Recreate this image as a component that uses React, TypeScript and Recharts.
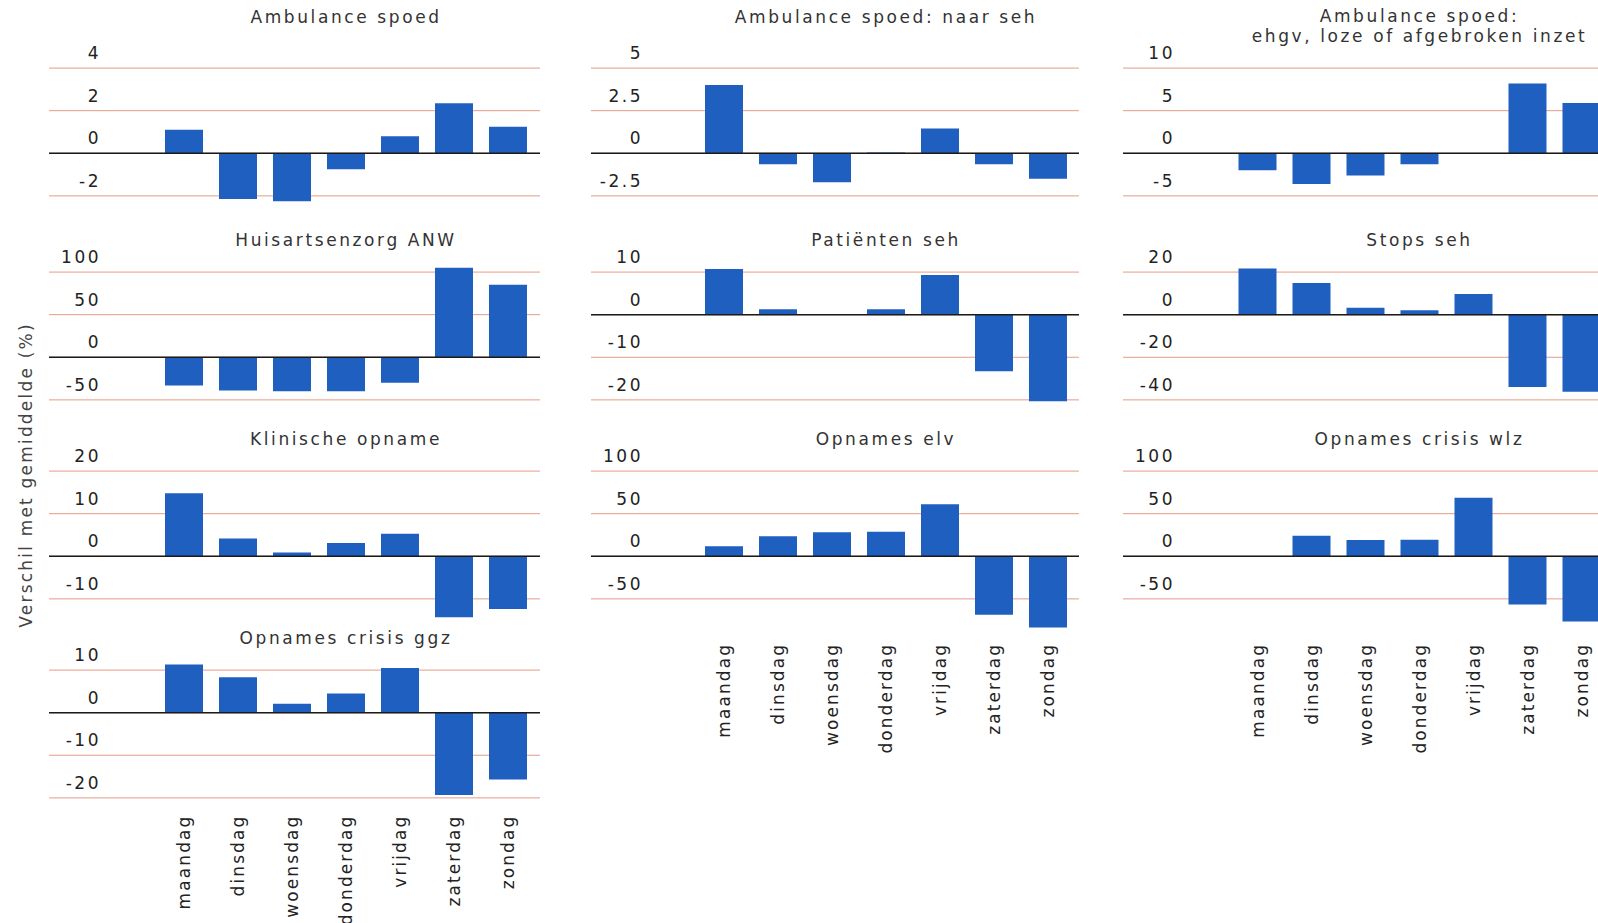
import { Bar, BarChart, CartesianGrid, ReferenceLine, XAxis, YAxis } from "recharts";

const days = ["maandag", "dinsdag", "woensdag", "donderdag", "vrijdag", "zaterdag", "zondag"];

const ambulanceSpoed = [1.1, -2.15, -2.25, -0.75, 0.8, 2.35, 1.25];
const ambulanceNaarSeh = [4.0, -0.65, -1.7, 0.05, 1.45, -0.65, -1.5];
const ambulanceEhgv = [-2.0, -3.6, -2.6, -1.3, 0, 8.2, 5.9];
const huisartsenzorgAnw = [-33, -39, -40, -40, -30, 105, 85];
const patientenSeh = [10.7, 1.3, 0, 1.3, 9.3, -13.3, -20.3];
const stopsSeh = [21.7, 14.9, 3.2, 2.1, 9.7, -34, -36.2];
const klinischeOpname = [14.8, 4.2, 0.9, 3.1, 5.3, -14.3, -12.4];
const opnamesElv = [11.8, 23.6, 28.3, 28.7, 61, -68.5, -83.5];
const opnamesCrisisWlz = [0, 24, 19, 19.4, 68.7, -56.7, -76.6];
const opnamesCrisisGgz = [11.3, 8.3, 2.1, 4.5, 10.5, -19.3, -15.7];

const ticksSpoed = [-2, 0, 2, 4];
const ticksNaarSeh = [-2.5, 0, 2.5, 5];
const ticksEhgv = [-5, 0, 5, 10];
const ticksAnw = [-50, 0, 50, 100];
const ticksPatienten = [-20, -10, 0, 10];
const ticksStops = [-40, -20, 0, 20];
const ticksKlinisch = [-10, 0, 10, 20];
const ticksElv = [-50, 0, 50, 100];
const ticksWlz = [-50, 0, 50, 100];
const ticksGgz = [-20, -10, 0, 10];

const yLabel = "Verschil met gemiddelde (%)";

const panels = [
  { title: ["Ambulance spoed"], values: ambulanceSpoed, ticks: ticksSpoed },
  { title: ["Ambulance spoed: naar seh"], values: ambulanceNaarSeh, ticks: ticksNaarSeh },
  { title: ["Ambulance spoed:", "ehgv, loze of afgebroken inzet"], values: ambulanceEhgv, ticks: ticksEhgv },
  { title: ["Huisartsenzorg ANW"], values: huisartsenzorgAnw, ticks: ticksAnw },
  { title: ["Patiënten seh"], values: patientenSeh, ticks: ticksPatienten },
  { title: ["Stops seh"], values: stopsSeh, ticks: ticksStops },
  { title: ["Klinische opname"], values: klinischeOpname, ticks: ticksKlinisch },
  { title: ["Opnames elv"], values: opnamesElv, ticks: ticksElv },
  { title: ["Opnames crisis wlz"], values: opnamesCrisisWlz, ticks: ticksWlz },
  { title: ["Opnames crisis ggz"], values: opnamesCrisisGgz, ticks: ticksGgz },
];

// layout (pixels)
const COL_LEFT = [49, 591, 1123];
const COL_WIDTH = [491, 488, 491];
const COL_PAD = [108, 106, 107.5];
const ROW_TOP = [68.3, 272.5, 471, 670.5];
const STEP_PX = 42.6;
const BAND = 54;
const AXIS_W = 1;
const FONT = "'DejaVu Sans', Verdana, sans-serif";
const BLUE = "#1f5fbf";
const GRID = "#e59a85";

// [col, row, gap below bottom gridline for day labels (0 = no labels)]
const layout = [
  [0, 0, 0], [1, 0, 0], [2, 0, 0],
  [0, 1, 0], [1, 1, 0], [2, 1, 0],
  [0, 2, 0], [1, 2, 44], [2, 2, 44],
  [0, 3, 16.7],
];

function ValueTick({ x, y, payload }: any) {
  return (
    <text x={x + 52} y={y - 9} textAnchor="end" fontSize={17} letterSpacing={2.5} fill="#222" fontFamily={FONT}>
      {payload.value}
    </text>
  );
}

function DayTick({ x, y, payload }: any) {
  return (
    <text
      x={x}
      y={y}
      transform={`rotate(-90, ${x}, ${y})`}
      textAnchor="end"
      dy="0.36em"
      fontSize={17}
      letterSpacing={2.1}
      fill="#222"
      fontFamily={FONT}
    >
      {payload.value}
    </text>
  );
}

function Panel({ index }: { index: number }) {
  const p = panels[index];
  const [col, row, gap] = layout[index];
  const step = p.ticks[1] - p.ticks[0];
  const hi = p.ticks[3] + 0.8 * step;
  const lo = gap ? p.ticks[0] - (gap / STEP_PX) * step : p.ticks[0] - 0.8 * step;
  const plotTop = ROW_TOP[row] - 0.8 * STEP_PX;
  const plotH = ((hi - lo) / step) * STEP_PX;
  const axisH = gap ? 130 : 0;
  const width = COL_WIDTH[col];
  const padL = COL_PAD[col];
  const padR = width - padL - BAND * days.length;
  const data = days.map((day, i) => ({ day, value: p.values[i] }));
  const titleTop = row === 0 ? ROW_TOP[row] - 61 : ROW_TOP[row] - 42.5;

  return (
    <>
      <div
        style={{
          position: "absolute",
          left: COL_LEFT[col] + padL - 20,
          width: BAND * days.length + 40,
          top: p.title.length > 1 ? 6 : titleTop,
          textAlign: "center",
          fontSize: 17,
          lineHeight: "20.4px",
          letterSpacing: 2.6,
          color: "#333",
          fontFamily: FONT,
          whiteSpace: "nowrap",
        }}
      >
        {p.title.map((t) => (
          <div key={t}>{t}</div>
        ))}
      </div>
      <div style={{ position: "absolute", left: COL_LEFT[col] - AXIS_W, top: plotTop }}>
        <BarChart
          width={width + AXIS_W}
          height={plotH + axisH}
          data={data}
          margin={{ top: 0, right: 0, bottom: 0, left: 0 }}
          barSize={38}
        >
          <CartesianGrid horizontal vertical={false} stroke={GRID} strokeWidth={1} syncWithTicks />
          <XAxis
            dataKey="day"
            type="category"
            hide={!gap}
            height={axisH}
            padding={{ left: padL, right: padR }}
            axisLine={false}
            tickLine={false}
            tickSize={0}
            tickMargin={0}
            interval={0}
            tick={<DayTick />}
          />
          <YAxis
            type="number"
            domain={[lo, hi]}
            ticks={p.ticks}
            width={AXIS_W}
            axisLine={false}
            tickLine={false}
            tickSize={0}
            tickMargin={0}
            interval={0}
            tick={<ValueTick />}
          />
          <Bar dataKey="value" fill={BLUE} isAnimationActive={false} />
          <ReferenceLine y={0} stroke="#1a1a1a" strokeWidth={1.5} />
        </BarChart>
      </div>
    </>
  );
}

export default function App() {
  return (
    <div
      style={{
        position: "fixed",
        left: 0,
        top: 0,
        width: 1598,
        height: 923,
        overflow: "hidden",
        background: "#fff",
        fontFamily: FONT,
      }}
    >
      <div
        style={{
          position: "absolute",
          left: 25.5,
          top: 475,
          transform: "translate(-50%, -50%) rotate(-90deg)",
          fontSize: 17,
          letterSpacing: 2.2,
          color: "#444",
          whiteSpace: "nowrap",
        }}
      >
        {yLabel}
      </div>
      {panels.map((_, i) => (
        <Panel key={i} index={i} />
      ))}
    </div>
  );
}
